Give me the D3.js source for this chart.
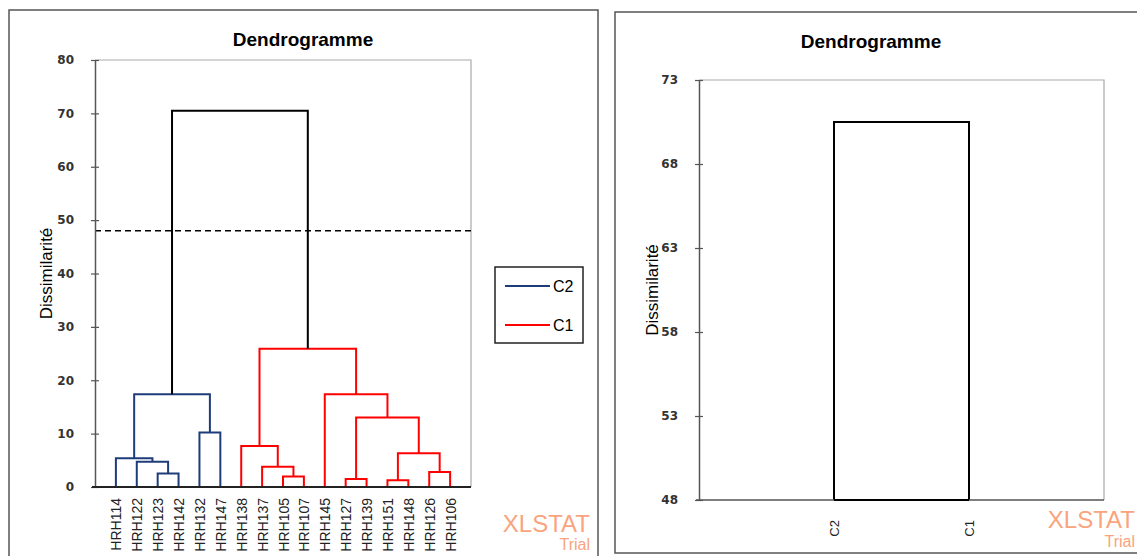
<!DOCTYPE html>
<meta charset="utf-8">
<script src="https://d3js.org/d3.v7.min.js"></script>
<style>
  body { margin: 0; background: #fff; }
  text { font-family: "Liberation Sans", Arial, sans-serif; }
</style>
<div id="chart"></div>
<script>
// leaves of the dendrogram, in drawing order
const leaves = ["HRH114","HRH122","HRH123","HRH142","HRH132","HRH147",
  "HRH138","HRH137","HRH105","HRH107","HRH145","HRH127","HRH139",
  "HRH151","HRH148","HRH126","HRH106"];
const leafClass = ["C2","C2","C2","C2","C2","C2",
  "C1","C1","C1","C1","C1","C1","C1","C1","C1","C1","C1"];
// merges: [child a, child b, dissimilarity]; node ids are n0, n1, ...
const merges = [
  ["HRH123","HRH142", 2.55],   // n0
  ["HRH122","n0", 4.75],       // n1
  ["HRH114","n1", 5.4],        // n2
  ["HRH132","HRH147", 10.2],   // n3
  ["n2","n3", 17.4],           // n4
  ["HRH105","HRH107", 1.95],   // n5
  ["HRH137","n5", 3.8],        // n6
  ["HRH138","n6", 7.7],        // n7
  ["HRH127","HRH139", 1.5],    // n8
  ["HRH151","HRH148", 1.25],   // n9
  ["HRH126","HRH106", 2.8],    // n10
  ["n9","n10", 6.3],           // n11
  ["n8","n11", 13.0],          // n12
  ["HRH145","n12", 17.4],      // n13
  ["n7","n13", 25.9],          // n14
  ["n4","n14", 70.5]           // n15
];
const cutLevel = 48;
const yTicksLeft = [0,10,20,30,40,50,60,70,80];

// right chart: the truncated dendrogram
const classes = ["C2","C1"];
const classRootHeight = 70.5;
const yTicksRight = [48,53,58,63,68,73];

const legendItems = ["C2","C1"];
const classColor = {"C2": "#1f3c7a", "C1": "#ff0000"};

const W = 1137, H = 556;
const svg = d3.select("#chart").append("svg")
  .attr("width", W).attr("height", H);

// panel borders
svg.append("rect").attr("x", 9).attr("y", 10).attr("width", 589).attr("height", 560)
  .attr("fill", "none").attr("stroke", "#555").attr("stroke-width", 1.5);
svg.append("rect").attr("x", 615).attr("y", 12).attr("width", 540).attr("height", 541)
  .attr("fill", "none").attr("stroke", "#555").attr("stroke-width", 1.5);

function yAxis(g, y, ticks) {
  g.call(d3.axisLeft(y).tickValues(ticks).tickSizeOuter(0).tickPadding(15));
  g.select(".domain").attr("stroke", "#555").attr("stroke-width", 1.5);
  g.selectAll(".tick line").attr("x1", 4).attr("x2", -4).attr("stroke", "#555").attr("stroke-width", 1.2);
  g.selectAll(".tick text").attr("fill", "#333")
    .style("font-family", "DejaVu Sans, sans-serif").style("font-weight", "bold").style("font-size", "12px");
}

// ---------- left: full dendrogram ----------
const L = {left: 95, right: 471, top: 60, bottom: 487};
const x = d3.scalePoint().domain(leaves).range([L.left, L.right]).padding(1);
const y = d3.scaleLinear().domain([0, 80]).range([L.bottom, L.top]);

// frame (top + right)
svg.append("path")
  .attr("d", `M${L.left},${L.top}H${L.right}V${L.bottom}`)
  .attr("fill", "none").attr("stroke", "#aaa").attr("stroke-width", 1.2);

svg.append("text").attr("x", 303).attr("y", 46).attr("text-anchor", "middle")
  .style("font-size", "19px").style("font-weight", "bold").text("Dendrogramme");

svg.append("text").attr("transform", `translate(52,${(L.top + L.bottom) / 2}) rotate(-90)`)
  .attr("text-anchor", "middle").style("font-size", "17px").text("Dissimilarité");

// node positions
const pos = {};
leaves.forEach((d, i) => { pos[d] = {x: x(d), h: 0, cls: leafClass[i]}; });
merges.forEach((m, i) => {
  const a = pos[m[0]], b = pos[m[1]];
  const cls = (a.cls === b.cls && m[2] < cutLevel) ? a.cls : null;
  pos["n" + i] = {x: (a.x + b.x) / 2, h: m[2], cls: cls, a: a, b: b};
});

svg.append("g").selectAll("path")
  .data(merges.map((m, i) => pos["n" + i]))
  .join("path")
  .attr("d", d => `M${d.a.x},${y(d.a.h)}V${y(d.h)}H${d.b.x}V${y(d.b.h)}`)
  .attr("fill", "none")
  .attr("stroke", d => d.cls ? classColor[d.cls] : "#000")
  .attr("stroke-width", 2);

// truncation line
svg.append("line").attr("x1", L.left).attr("x2", L.right)
  .attr("y1", y(cutLevel)).attr("y2", y(cutLevel))
  .attr("stroke", "#000").attr("stroke-width", 1.6).attr("stroke-dasharray", "6,4");

const gy = svg.append("g").attr("transform", `translate(${L.left},0)`);
yAxis(gy, y, yTicksLeft);

const gx = svg.append("g").attr("transform", `translate(0,${L.bottom})`)
  .call(d3.axisBottom(x).tickSize(0).tickSizeOuter(0));
gx.select(".domain").attr("stroke", "#222").attr("stroke-width", 2)
  .attr("d", `M${L.left - 3},0H${L.right}`);
gx.selectAll(".tick text")
  .attr("transform", "rotate(-90)").attr("text-anchor", "end")
  .attr("x", -11).attr("y", 0).attr("dy", "0.36em")
  .attr("fill", "#222").style("font-size", "14px");

// legend
const lg = svg.append("g");
lg.append("rect").attr("x", 495).attr("y", 267).attr("width", 88).attr("height", 76)
  .attr("fill", "#fff").attr("stroke", "#222").attr("stroke-width", 1.5);
legendItems.forEach((c, i) => {
  const ly = 286 + i * 39;
  lg.append("line").attr("x1", 505).attr("x2", 550).attr("y1", ly).attr("y2", ly)
    .attr("stroke", classColor[c]).attr("stroke-width", 2);
  lg.append("text").attr("x", 553).attr("y", ly + 6).style("font-size", "16px").text(c);
});

// ---------- right: truncated dendrogram ----------
const R = {left: 699, right: 1104, top: 80, bottom: 500};
const x2 = d3.scalePoint().domain(classes).range([R.left, R.right]).padding(1);
const y2 = d3.scaleLinear().domain([48, 73]).range([R.bottom, R.top]);

svg.append("path")
  .attr("d", `M${R.left},${R.top}H${R.right}V${R.bottom}`)
  .attr("fill", "none").attr("stroke", "#aaa").attr("stroke-width", 1.2);

svg.append("text").attr("x", 871).attr("y", 48).attr("text-anchor", "middle")
  .style("font-size", "19px").style("font-weight", "bold").text("Dendrogramme");

svg.append("text").attr("transform", `translate(658,${(R.top + R.bottom) / 2}) rotate(-90)`)
  .attr("text-anchor", "middle").style("font-size", "17px").text("Dissimilarité");

svg.append("path")
  .attr("d", `M${x2(classes[0])},${y2(48)}V${y2(classRootHeight)}H${x2(classes[1])}V${y2(48)}`)
  .attr("fill", "none").attr("stroke", "#000").attr("stroke-width", 2);

const gy2 = svg.append("g").attr("transform", `translate(${R.left},0)`);
yAxis(gy2, y2, yTicksRight);

const gx2 = svg.append("g").attr("transform", `translate(0,${R.bottom})`)
  .call(d3.axisBottom(x2).tickSize(0).tickSizeOuter(0));
gx2.select(".domain").attr("stroke", "#555").attr("stroke-width", 1.5)
  .attr("d", `M${R.left - 3},0H${R.right}`);
svg.append("line").attr("x1", x2(classes[0])).attr("x2", x2(classes[1]))
  .attr("y1", R.bottom).attr("y2", R.bottom).attr("stroke", "#000").attr("stroke-width", 2);
gx2.selectAll(".tick text")
  .attr("transform", "rotate(-90)").attr("text-anchor", "end")
  .attr("x", -20).attr("y", 0).attr("dy", "0.36em")
  .attr("fill", "#222").style("font-size", "13px");

// XLSTAT watermarks
[[590, 532, 550], [1135, 528, 547]].forEach(w => {
  svg.append("text").attr("x", w[0]).attr("y", w[1]).attr("text-anchor", "end")
    .attr("fill", "#f9a47c").style("font-size", "24px").text("XLSTAT");
  svg.append("text").attr("x", w[0]).attr("y", w[2]).attr("text-anchor", "end")
    .attr("fill", "#f9a47c").style("font-size", "16px").text("Trial");
});
</script>
